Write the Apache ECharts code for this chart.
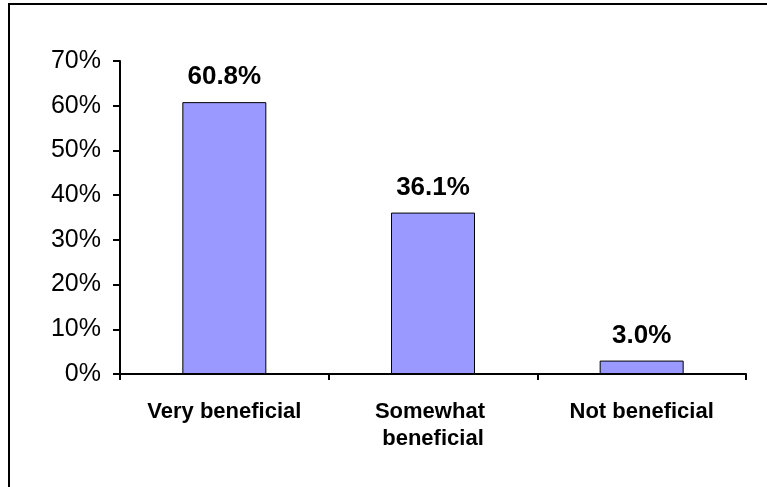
<!DOCTYPE html>
<html>
<head>
<meta charset="utf-8">
<script src="https://cdn.jsdelivr.net/npm/echarts@6/dist/echarts.min.js"></script>
<style>
  html, body { margin: 0; padding: 0; background: #fff; }
  #chart { width: 767px; height: 487px; }
</style>
</head>
<body>
<div id="chart"></div>
<script>
// Survey responses: how beneficial respondents found it
const categories = ['Very beneficial', 'Somewhat beneficial', 'Not beneficial'];
const shares = [60.8, 36.1, 3.0];
const yTicks = [0, 10, 20, 30, 40, 50, 60, 70];

const FONT = '"Liberation Sans", Arial, sans-serif';
const chart = echarts.init(document.getElementById('chart'), null, { renderer: 'canvas' });

chart.setOption({
  backgroundColor: '#ffffff',
  animation: false,
  textStyle: { fontFamily: FONT, color: '#000' },
  grid: { left: 120, right: 21, top: 61, bottom: 113, containLabel: false },
  graphic: [
    // frame edges around the chart area
    { type: 'line', shape: { x1: 9, y1: 4, x2: 767, y2: 4 }, style: { stroke: '#000', lineWidth: 2 } },
    { type: 'line', shape: { x1: 9, y1: 3, x2: 9, y2: 487 }, style: { stroke: '#000', lineWidth: 2 } }
  ],
  xAxis: {
    type: 'category',
    data: categories,
    boundaryGap: true,
    axisLine: { lineStyle: { color: '#000', width: 2 } },
    axisTick: { show: true, alignWithLabel: false, length: 6, lineStyle: { color: '#000', width: 2 } },
    axisLabel: {
      interval: 0,
      margin: 24,
      color: '#000',
      fontFamily: FONT,
      fontWeight: 'bold',
      fontSize: 22,
      lineHeight: 27,
      width: 175,
      overflow: 'break'
    }
  },
  yAxis: {
    type: 'value',
    min: yTicks[0],
    max: yTicks[yTicks.length - 1],
    interval: yTicks[1] - yTicks[0],
    splitLine: { show: false },
    axisLine: { show: true, lineStyle: { color: '#000', width: 2 } },
    axisTick: { show: true, length: 7, lineStyle: { color: '#000', width: 2 } },
    axisLabel: {
      margin: 19,
      color: '#000',
      fontFamily: FONT,
      fontSize: 25,
      formatter: v => v + '%'
    }
  },
  series: [{
    type: 'bar',
    data: shares,
    barWidth: 84,
    itemStyle: { color: '#9999ff', borderColor: '#000', borderWidth: 1 },
    label: {
      show: true,
      position: 'top',
      distance: 12,
      color: '#000',
      fontFamily: FONT,
      fontWeight: 'bold',
      fontSize: 26,
      formatter: p => p.value.toFixed(1) + '%'
    }
  }]
});
</script>
</body>
</html>
